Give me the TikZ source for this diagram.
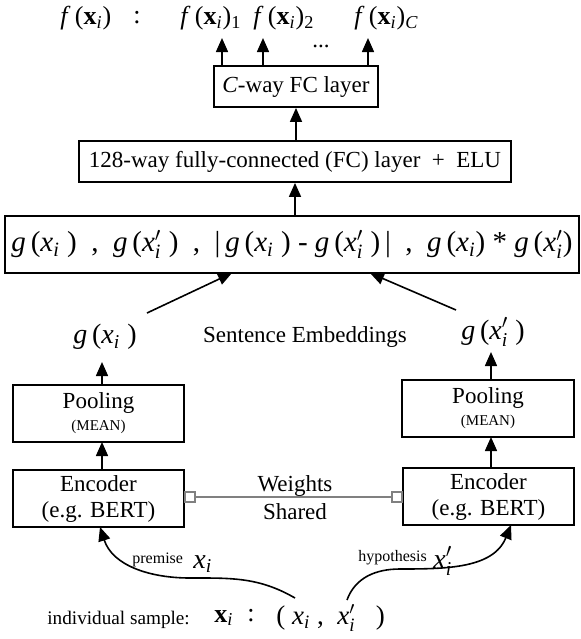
\documentclass[tikz,border=0pt]{standalone}
\usepackage{fontspec}
\setmainfont{Liberation Serif}
\usetikzlibrary{arrows.meta}
\newcommand{\myxi}{$\mathit{x}_{\mathit{i}}$}
\newcommand{\myxip}{$\mathit{x}'_{\mathit{i}}$}
\newcommand{\myfx}{\textit{f}\,(\textbf{x}\textsubscript{\textit{i}})}
\begin{document}
\begin{tikzpicture}[x=0.5pt,y=-0.5pt,
  mainfont/.style={font=\fontsize{11.5}{13}\selectfont},
  box/.style={draw,line width=0.9pt,inner sep=0pt,align=center,mainfont},
  arr/.style={line width=0.8pt,-{Triangle[length=7pt,width=6pt]}},
  lab/.style={inner sep=0pt,font=\fontsize{14}{16}\selectfont},
  toplab/.style={inner sep=0pt,font=\fontsize{13}{15}\selectfont},
  txt/.style={inner sep=0pt,mainfont},
  sq/.style={draw=gray,fill=white,line width=0.6pt,minimum size=5pt,inner sep=0pt},
  grayline/.style={draw=gray,line width=0.7pt}]
\useasboundingbox (0,0) rectangle (581,639);

% top labels
\node[toplab,anchor=west] (f0) at (60,18) {\myfx};
\node[toplab] (colon) at (137,18) {:};
\node[toplab,anchor=west] (f1) at (180,18) {\myfx\textsubscript{1}};
\node[toplab,anchor=west] (f2) at (253,18) {\myfx\textsubscript{2}};
\node[toplab,anchor=west] (fC) at (354,18) {\myfx\textsubscript{\textit{C}}};
\node[txt] (dots) at (321,46) {...};

% boxes
\node[box,minimum width=82pt,minimum height=20.5pt] (cfc) at (296,86.5) {\textit{C}-way FC layer};
\node[box,minimum width=216pt,minimum height=20.5pt] (fc) at (295,161.5) {128-way fully-connected (FC) layer\ \ +\ \ ELU};
\node[box,minimum width=287pt,minimum height=28.5pt,font=\fontsize{14.5}{16}\selectfont] (big) at (292,244.5)
  {\textit{g}\,(\myxi\ )\ \ ,\ \ \textit{g}\,(\myxip\ )\ \ ,\ \ |\,\textit{g}\,(\myxi\ ) - \textit{g}\,(\myxip\ )\,|\ \ ,\ \ \textit{g}\,(\myxi) * \textit{g}\,(\myxip)};

\node[box,minimum width=85.5pt,minimum height=28.5pt] (pl) at (98.5,413.5) {Pooling\\[-2pt]{\fontsize{7.5}{9}\selectfont (MEAN)}};
\node[box,minimum width=86pt,minimum height=28.5pt] (pr) at (488,408.5) {Pooling\\[-2pt]{\fontsize{7.5}{9}\selectfont (MEAN)}};
\node[box,minimum width=85.5pt,minimum height=28.5pt] (el) at (98.5,498.5) {Encoder\\(e.g. BERT)};
\node[box,minimum width=85.5pt,minimum height=28.5pt] (er) at (488.5,496.5) {Encoder\\(e.g. BERT)};

% middle labels
\node[lab] (gL) at (105,337) {\textit{g}\,(\myxi\ )};
\node[lab] (gR) at (493,332) {\textit{g}\,(\myxip\ )};
\node[txt] (se) at (305,337) {Sentence Embeddings};

% weights shared
\node[txt,align=center] (ws) at (295,497.5) {Weights\\[1pt]Shared};
\node[sq] (sqL) at (190,497) {};
\node[sq] (sqR) at (397,497) {};
\draw[grayline] (sqL.east) -- (sqR.west);

% labels on curves
\node[inner sep=0pt,font=\fontsize{8}{9}\selectfont,anchor=west] (prem) at (132,560) {premise};
\node[lab,anchor=west] (premx) at (193,564) {\myxi};
\node[inner sep=0pt,font=\fontsize{8}{9}\selectfont,anchor=west] (hyp) at (358,558) {hypothesis};
\node[lab,anchor=west] (hypx) at (433,561) {\myxip};

% bottom line
\node[inner sep=0pt,font=\fontsize{9.6}{11}\selectfont,anchor=west] (ind) at (47,620) {individual sample:};
\node[inner sep=0pt,font=\fontsize{13}{15}\selectfont,anchor=west] (bx) at (214,618) {\textbf{x}\textsubscript{\textit{i}}};
\node[inner sep=0pt,font=\fontsize{13}{15}\selectfont] (bcol) at (251,616) {:};
\node[inner sep=0pt,font=\fontsize{13.5}{15}\selectfont,anchor=west] (bpair) at (276,618) {(\ \myxi\ ,\ \ \myxip\ \ \ )};

% coordinates
\coordinate (t1) at (222,38);
\coordinate (t2) at (263,38);
\coordinate (t3) at (368,38);
\coordinate (dL1) at (147,313);
\coordinate (dL2) at (232,273);
\coordinate (dR1) at (456,310);
\coordinate (dR2) at (370,273);
\coordinate (pLt) at (102,362);
\coordinate (pRt) at (491,352);
\coordinate (eLt) at (102,442);
\coordinate (eRt) at (491,437);
\coordinate (cL0) at (295,598);
\coordinate (cLm) at (190,578);
\coordinate (cR0) at (347,600);
\coordinate (cRm) at (400,569);
\coordinate (cLe) at (100,527);
\coordinate (cRe) at (511,525);

% arrows
\draw[arr] (t1 |- cfc.north) -- (t1);
\draw[arr] (t2 |- cfc.north) -- (t2);
\draw[arr] (t3 |- cfc.north) -- (t3);
\draw[arr] (cfc.south |- fc.north) -- (cfc.south);
\draw[arr] (fc.south |- big.north) -- (fc.south);
\draw[arr] (dL1) -- (dL2);
\draw[arr] (dR1) -- (dR2);
\draw[arr] (pLt |- pl.north) -- (pLt);
\draw[arr] (pRt |- pr.north) -- (pRt);
\draw[arr] (eLt |- el.north) -- (eLt);
\draw[arr] (eRt |- er.north) -- (eRt);
\draw[arr] (cL0) to[out=150,in=0] (cLm) to[out=180,in=-72] (cLe);
\draw[arr] (cR0) to[out=70,in=180] (cRm) to[out=0,in=-112] (cRe);
\end{tikzpicture}
\end{document}
